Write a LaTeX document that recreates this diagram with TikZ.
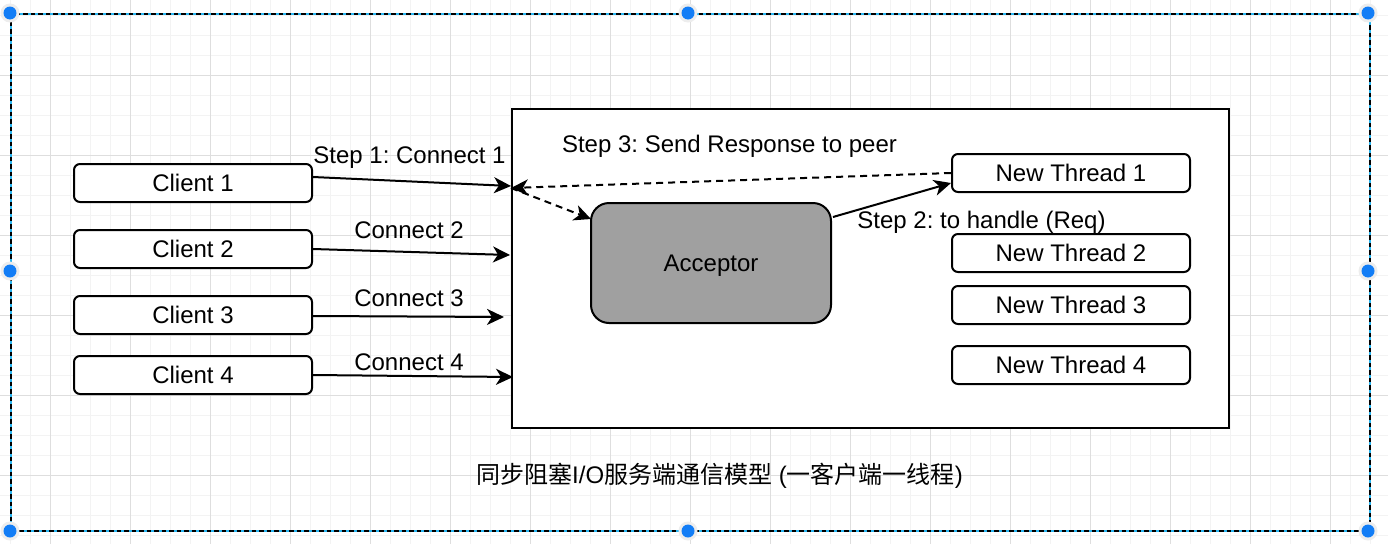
\documentclass[tikz,border=0pt]{standalone}
\usepackage{fontspec}
\setmainfont{Liberation Sans}
\newfontfamily\cjk{Noto Sans CJK SC}
\usetikzlibrary{arrows.meta,calc}
\definecolor{gridminor}{RGB}{243,243,243}
\definecolor{gridmajor}{RGB}{222,222,222}
\definecolor{selblue}{RGB}{41,182,242}
\definecolor{handleblue}{RGB}{18,125,246}
\definecolor{accgray}{RGB}{160,160,160}
\begin{document}
\frenchspacing
\begin{tikzpicture}[x=1pt,y=-1pt,
  box/.style={draw=black, line width=2pt, rounded corners=6pt, minimum width=238pt, minimum height=38pt, inner sep=0pt, fill=white, font=\fontsize{24}{28}\selectfont},
  lbl/.style={inner sep=0pt, anchor=base, font=\fontsize{24}{28}\selectfont},
  conn/.style={line width=2pt, -{Stealth[length=17pt,width=16pt,inset=5pt]}},
  dconn/.style={conn, dash pattern=on 7pt off 5pt}
]
\useasboundingbox (0,0) rectangle (1388,544);
\fill[white] (0,0) rectangle (1388,544);
% grid
\foreach \x in {10,30,...,1390} \draw[gridminor, line width=1pt] (\x,0) -- (\x,544);
\foreach \y in {15,35,...,544} \draw[gridminor, line width=1pt] (0,\y) -- (1388,\y);
\foreach \x in {50,130,...,1390} \draw[gridmajor, line width=1pt] (\x,0) -- (\x,544);
\foreach \y in {75,155,...,544} \draw[gridmajor, line width=1pt] (0,\y) -- (1388,\y);

% server frame
\node[draw=black, line width=2pt, fill=white, minimum width=717pt, minimum height=319pt, inner sep=0pt] (srv) at (870.5,268.5) {};

% clients
\node[box] (c1) at (193,183) {Client 1};
\node[box] (c2) at (193,249) {Client 2};
\node[box] (c3) at (193,315) {Client 3};
\node[box] (c4) at (193,375) {Client 4};

% acceptor
\node[draw=black, line width=2pt, fill=accgray, rounded corners=18pt, minimum width=240pt, minimum height=120pt, inner sep=0pt, text depth=0pt, font=\fontsize{24}{28}\selectfont] (acc) at (711,263) {Acceptor};

% threads
\node[box] (t1) at (1071,173) {New Thread 1};
\node[box] (t2) at (1071,253) {New Thread 2};
\node[box] (t3) at (1071,305) {New Thread 3};
\node[box] (t4) at (1071,365) {New Thread 4};

% endpoints on the server frame
\coordinate (e1) at (511,186);
\coordinate (e2) at (510,255);
\coordinate (e3) at (504,317);
\coordinate (e4) at (513,377);
\coordinate (peer) at (511,188);
\coordinate (accin) at (591,219);

% connections
\draw[conn] ($(c1.east)+(0,-6)$) -- (e1);
\draw[conn] (c2.east) -- (e2);
\draw[conn] ($(c3.east)+(0,1)$) -- (e3);
\draw[conn] (c4.east) -- (e4);
\draw[dconn] (t1.west) -- (peer);
\draw[dconn] (peer) -- (accin);
\draw[conn] ($(acc.north east)+(1,15)$) -- ($(t1.west)+(0,10)$);

% labels
\node[lbl] (l1) at (409.5,163) {Step 1: Connect 1};
\node[lbl] (l2) at (409,238) {Connect 2};
\node[lbl] (l3) at (409,306) {Connect 3};
\node[lbl] (l4) at (409,370) {Connect 4};
\node[lbl] (l5) at (729.5,152) {Step 3: Send Response to peer};
\node[lbl] (l6) at (981.5,228) {Step 2: to handle (Req)};
\node[inner sep=0pt, anchor=base, font=\fontsize{24}{28}\selectfont] (title) at (719.5,483) {{\cjk 同步阻塞}I/O{\cjk 服务端通信模型} ({\cjk 一客户端一线程})};

% selection frame
\draw[selblue, line width=1.6pt] (11,14) rectangle (1370,531);
\draw[black, line width=1.6pt, dash pattern=on 4.5pt off 3pt] (11,14) rectangle (1370,531);
\foreach \p in {(10,13),(688,13),(1368,13),(10,271),(1368,271),(10,531),(688,531),(1368,531)} {
  \fill[black!7] \p circle (9.5pt);
  \fill[handleblue] \p circle (6.5pt);
}
\end{tikzpicture}
\end{document}
